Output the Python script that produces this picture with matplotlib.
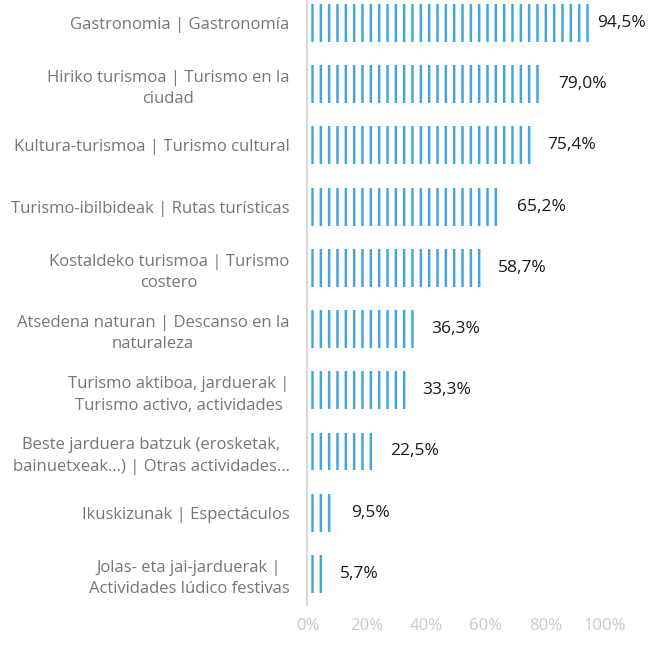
import matplotlib
matplotlib.use("Agg")
from matplotlib import pyplot as plt
from matplotlib.ticker import FuncFormatter

categories = [
    "Gastronomia | Gastronomía",
    "Hiriko turismoa | Turismo en la\nciudad",
    "Kultura-turismoa | Turismo cultural",
    "Turismo-ibilbideak | Rutas turísticas",
    "Kostaldeko turismoa | Turismo\ncostero",
    "Atsedena naturan | Descanso en la\nnaturaleza",
    "Turismo aktiboa, jarduerak |\nTurismo activo, actividades",
    "Beste jarduera batzuk (erosketak,\nbainuetxeak…) | Otras actividades…",
    "Ikuskizunak | Espectáculos",
    "Jolas- eta jai-jarduerak |\nActividades lúdico festivas",
]
values = [94.5, 79.0, 75.4, 65.2, 58.7, 36.3, 33.3, 22.5, 9.5, 5.7]
xticks = [0, 20, 40, 60, 80, 100]

plt.rcParams['font.family'] = ['Open Sans', 'DejaVu Sans']
plt.rcParams['hatch.linewidth'] = 1.8

fig = plt.figure(figsize=(6.48, 6.48), dpi=100)
ax = fig.add_axes([0.4745, 0.067, 0.459, 0.945])

y = range(len(values))
ax.barh(y, values, height=0.62, facecolor='white', edgecolor='#45A6DC',
        linewidth=0, hatch='||')

# value labels, kept inside the figure for the longest bar
for i, v in enumerate(values):
    ax.text(min(v + 5.3, 97.3), i, f"{v:.1f}%".replace('.', ','),
            va='center', ha='left', fontsize=12.5, color='#1a1a1a')

ax.set_xlim(0, 100)
ax.set_ylim(len(values) - 0.5, -0.5)
ax.set_xticks(xticks)
ax.xaxis.set_major_formatter(FuncFormatter(lambda v, p: f"{v:.0f}%"))
ax.set_yticks(list(y))
ax.set_yticklabels(categories, multialignment='center', linespacing=1.45)
ax.tick_params(axis='y', length=0, pad=13, labelsize=12, labelcolor='#767676')
ax.tick_params(axis='x', length=0, pad=10, labelsize=12, labelcolor='#c8c8c8')

for side in ['top', 'right', 'bottom']:
    ax.spines[side].set_visible(False)
ax.spines['left'].set_color('#d9d9d9')
ax.spines['left'].set_linewidth(1.5)

fig.savefig('out.png', dpi=100)
